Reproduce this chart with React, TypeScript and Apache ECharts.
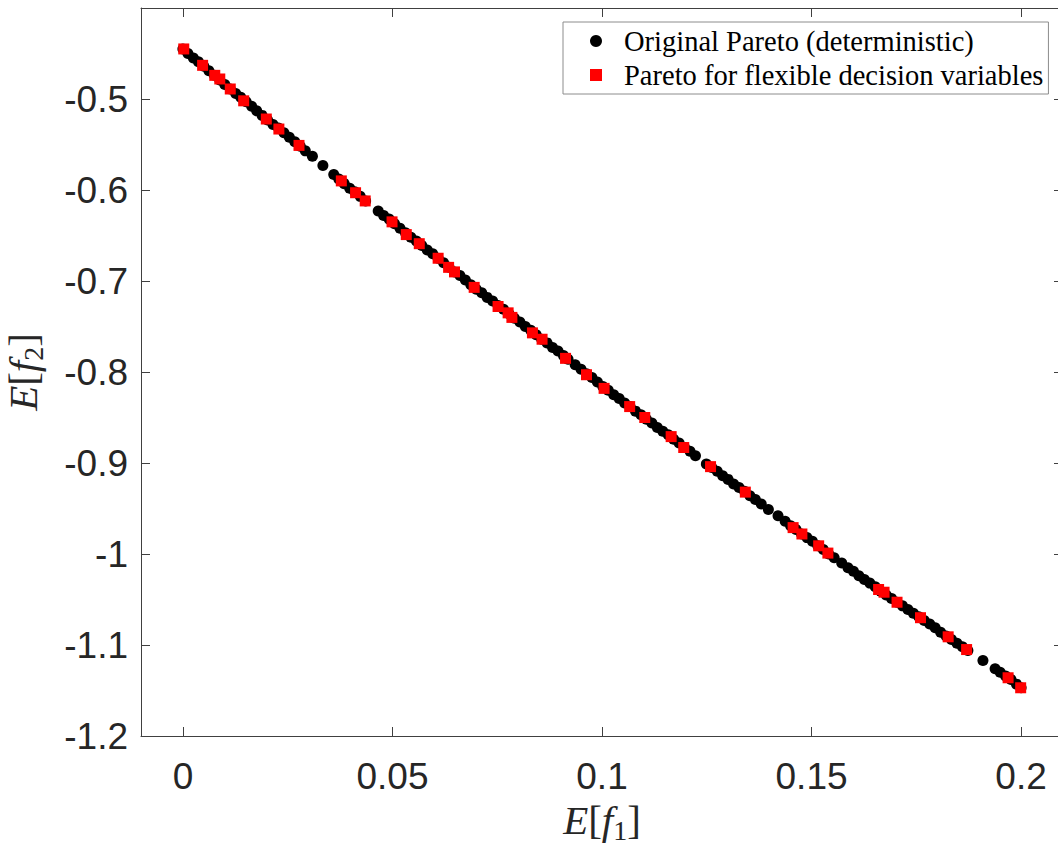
import React, { useEffect, useRef } from "react";
import * as echarts from "echarts";

// Original Pareto (deterministic) — E[f1], E[f2]
const originalX = [
  0.0, 0.0012, 0.0025, 0.0037, 0.005, 0.0062, 0.0075, 0.0088, 0.01, 0.0113, 0.0126, 0.0138,
  0.0151, 0.0164, 0.0176, 0.0189, 0.0202, 0.0215, 0.0228, 0.0241, 0.0254, 0.0267, 0.028, 0.0292,
  0.0309, 0.0334, 0.036,
  0.0372, 0.0385, 0.0398, 0.041, 0.0423, 0.0436,
  0.0466, 0.0479, 0.0492, 0.0505, 0.0518, 0.0531, 0.0544, 0.0557, 0.057, 0.0583, 0.0596, 0.0609,
  0.0622, 0.0635, 0.0648, 0.0661, 0.0674, 0.0687, 0.07, 0.0713, 0.0726, 0.0739, 0.0752, 0.0765,
  0.0778, 0.0791, 0.0804, 0.0817, 0.083, 0.0843, 0.0856, 0.0869, 0.0882, 0.0895, 0.0908, 0.0919,
  0.0936,
  0.095, 0.0963, 0.0976, 0.0989, 0.1002, 0.1015, 0.1028, 0.1041, 0.1054, 0.1067, 0.108, 0.1093,
  0.1106, 0.1119, 0.1132, 0.1145, 0.1158, 0.1171, 0.1184, 0.1197, 0.121, 0.1223,
  0.1249, 0.1262, 0.1275, 0.1288, 0.1301, 0.1314, 0.1327, 0.134, 0.1353, 0.1366, 0.138,
  0.1397, 0.142,
  0.1437, 0.145, 0.1463, 0.1476, 0.1489, 0.1502, 0.1515, 0.1528, 0.1541, 0.1554,
  0.1572,
  0.1587, 0.16, 0.1613, 0.1626, 0.1639, 0.1652, 0.1665, 0.1678, 0.1691, 0.1704, 0.1717, 0.173,
  0.1743, 0.1756, 0.1769, 0.1782, 0.1795, 0.1808, 0.1821, 0.1834, 0.1847, 0.186, 0.1873,
  0.1909, 0.1938,
  0.195, 0.1963, 0.1976, 0.1989, 0.2,
];
const originalY = [
  -0.445, -0.45, -0.455, -0.459, -0.464, -0.469, -0.474, -0.479, -0.484, -0.489, -0.494, -0.498,
  -0.503, -0.508, -0.513, -0.518, -0.523, -0.528, -0.532, -0.537, -0.542, -0.547, -0.552, -0.557,
  -0.563, -0.573, -0.583,
  -0.588, -0.593, -0.598, -0.602, -0.607, -0.612,
  -0.623, -0.628, -0.632, -0.637, -0.642, -0.647, -0.652, -0.656, -0.661, -0.666, -0.67, -0.675,
  -0.68, -0.685, -0.69, -0.694, -0.699, -0.704, -0.709, -0.713, -0.718, -0.722, -0.727, -0.731,
  -0.736, -0.741, -0.745, -0.75, -0.754, -0.759, -0.764, -0.768, -0.773, -0.777, -0.782, -0.786,
  -0.792,
  -0.797, -0.802, -0.806, -0.811, -0.816, -0.82, -0.825, -0.829, -0.834, -0.838, -0.843, -0.847,
  -0.852, -0.856, -0.861, -0.865, -0.869, -0.874, -0.878, -0.883, -0.887, -0.892,
  -0.901, -0.905, -0.909, -0.914, -0.918, -0.923, -0.927, -0.931, -0.936, -0.94, -0.945,
  -0.951, -0.958,
  -0.964, -0.969, -0.973, -0.978, -0.982, -0.986, -0.991, -0.995, -1.0, -1.004,
  -1.01,
  -1.015, -1.019, -1.024, -1.028, -1.032, -1.036, -1.041, -1.045, -1.049, -1.053, -1.057, -1.061,
  -1.065, -1.069, -1.073, -1.077, -1.081, -1.086, -1.09, -1.094, -1.098, -1.102, -1.106,
  -1.117, -1.126,
  -1.13, -1.134, -1.138, -1.143, -1.147,
];

// Pareto for flexible decision variables — E[f1], E[f2]
const flexibleX = [
  0.0002, 0.0047, 0.0076, 0.0088, 0.0113, 0.0145, 0.0199, 0.0229, 0.0277, 0.0378, 0.0412, 0.0435,
  0.0499, 0.0533, 0.0564, 0.0609, 0.0634, 0.0648, 0.0695, 0.0752, 0.0776, 0.0785, 0.0834, 0.0857,
  0.0913, 0.0963, 0.1005, 0.1066, 0.1102, 0.1165, 0.1195, 0.1259, 0.1342, 0.1456, 0.1477, 0.1517,
  0.1539, 0.166, 0.1673, 0.1704, 0.176, 0.1826, 0.187, 0.1969, 0.1999,
];
const flexibleY = [
  -0.445, -0.463, -0.474, -0.478, -0.489, -0.502, -0.522, -0.533, -0.551, -0.59, -0.603, -0.612,
  -0.635, -0.649, -0.659, -0.675, -0.685, -0.69, -0.707, -0.728, -0.735, -0.74, -0.757, -0.764,
  -0.785, -0.803, -0.818, -0.838, -0.85, -0.871, -0.883, -0.904, -0.932, -0.971, -0.978, -0.991,
  -0.999, -1.039, -1.042, -1.053, -1.07, -1.091, -1.105, -1.136, -1.147,
];

const xTickValues = [0, 0.05, 0.1, 0.15, 0.2];
const yTickValues = [-1.2, -1.1, -1.0, -0.9, -0.8, -0.7, -0.6, -0.5];

const seriesNames = ["Original Pareto (deterministic)", "Pareto for flexible decision variables"];

const AXIS_COLOR = "#404040";

export default function App() {
  const ref = useRef<HTMLDivElement>(null);

  useEffect(() => {
    if (!ref.current) return;
    const chart = echarts.init(ref.current, undefined, { renderer: "svg" });

    const fmt = (v: number) => String(Number(v.toFixed(3)));

    const sansLabel = {
      fontFamily: "Liberation Sans, Arial, sans-serif",
      fontSize: 37,
      color: "#262626",
    };

    const richName = () => ({
      fontFamily: "Liberation Serif, serif",
      color: "#262626",
      rich: {
        i: { fontFamily: "Liberation Serif, serif", fontStyle: "italic", fontSize: 41, lineHeight: 48, color: "#262626" },
        b: { fontFamily: "Liberation Serif, serif", fontSize: 41, lineHeight: 48, color: "#262626" },
        s: { fontFamily: "Liberation Serif, serif", fontSize: 28, lineHeight: 28, verticalAlign: "bottom", color: "#262626" },
      },
    });

    chart.setOption({
      animation: false,
      backgroundColor: "#ffffff",
      grid: { left: 141, top: 8, right: -5, bottom: 109, containLabel: false, outerBoundsMode: "none" },
      legend: {
        orient: "vertical",
        left: 563,
        top: 22,
        backgroundColor: "#ffffff",
        borderColor: "#8c8c8c",
        borderWidth: 1,
        borderRadius: 0,
        padding: [4, 5, 4, 27],
        itemGap: 4,
        itemWidth: 12,
        itemHeight: 12,
        textStyle: {
          fontFamily: "Liberation Serif, serif",
          fontSize: 28.5,
          lineHeight: 30,
          color: "#000000",
          padding: [0, 0, 0, 17],
        },
        data: [
          { name: seriesNames[0], icon: "circle" },
          { name: seriesNames[1], icon: "rect" },
        ],
      },
      xAxis: [
        {
          type: "value",
          min: -0.01,
          max: 0.21,
          position: "bottom",
          splitLine: { show: false },
          axisLine: { show: true, onZero: false, lineStyle: { color: AXIS_COLOR, width: 1 } },
          axisTick: { show: true, inside: true, length: 9, customValues: xTickValues, lineStyle: { color: AXIS_COLOR } },
          axisLabel: { show: true, margin: 22, customValues: xTickValues, formatter: fmt, ...sansLabel },
          name: "{i|E}{b|[}{i|f}{s|1}{b|]}",
          nameLocation: "middle",
          nameGap: 60,
          nameTextStyle: richName(),
        },
        {
          type: "value",
          min: -0.01,
          max: 0.21,
          position: "top",
          splitLine: { show: false },
          axisLine: { show: true, onZero: false, lineStyle: { color: AXIS_COLOR, width: 1 } },
          axisTick: { show: true, inside: true, length: 9, customValues: xTickValues, lineStyle: { color: AXIS_COLOR } },
          axisLabel: { show: false },
        },
      ],
      yAxis: [
        {
          type: "value",
          min: -1.2,
          max: -0.4,
          position: "left",
          splitLine: { show: false },
          axisLine: { show: true, onZero: false, lineStyle: { color: AXIS_COLOR, width: 1 } },
          axisTick: { show: true, inside: true, length: 9, customValues: yTickValues, lineStyle: { color: AXIS_COLOR } },
          axisLabel: { show: true, margin: 13, customValues: yTickValues, formatter: fmt, ...sansLabel },
          name: "{i|E}{b|[}{i|f}{s|2}{b|]}",
          nameLocation: "middle",
          nameRotate: 90,
          nameGap: 94,
          nameTextStyle: richName(),
        },
        {
          type: "value",
          min: -1.2,
          max: -0.4,
          position: "right",
          splitLine: { show: false },
          axisLine: { show: true, onZero: false, lineStyle: { color: AXIS_COLOR, width: 1 } },
          axisTick: { show: true, inside: true, length: 9, customValues: yTickValues, lineStyle: { color: AXIS_COLOR } },
          axisLabel: { show: false },
        },
      ],
      series: [
        {
          name: seriesNames[0],
          type: "scatter",
          symbol: "circle",
          symbolSize: 11,
          itemStyle: { color: "#000000", opacity: 1 },
          data: originalX.map((x, i) => [x, originalY[i]]),
        },
        {
          name: seriesNames[1],
          type: "scatter",
          symbol: "rect",
          symbolSize: 11,
          itemStyle: { color: "#ff0000", opacity: 1 },
          data: flexibleX.map((x, i) => [x, flexibleY[i]]),
        },
      ],
    });

    return () => chart.dispose();
  }, []);

  return (
    <div
      ref={ref}
      style={{ position: "absolute", left: 0, top: 0, width: 1058, height: 845, background: "#fff" }}
    />
  );
}
